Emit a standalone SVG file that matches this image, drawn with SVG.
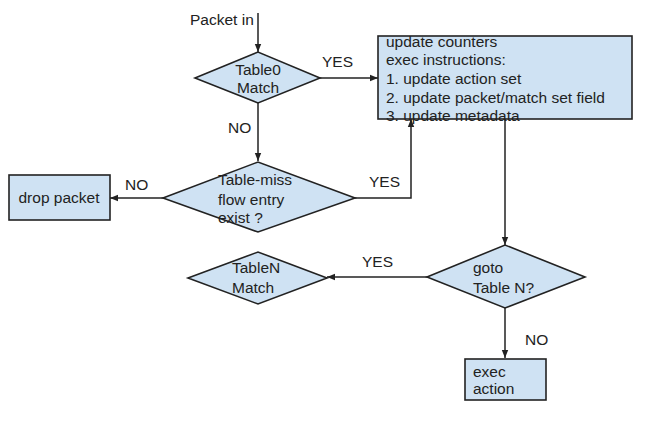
<svg xmlns="http://www.w3.org/2000/svg" width="646" height="424" viewBox="0 0 646 424">
<style>
.n{fill:#cfe2f3;stroke:#222;stroke-width:1.6}
.t{font-family:"Liberation Sans",Arial,sans-serif;font-size:15.5px;fill:#222}
.c{stroke:#222;stroke-width:1.5;fill:none}
</style>
<defs>
<marker id="ah" viewBox="0 0 10 10" refX="10" refY="5" markerWidth="8" markerHeight="8" markerUnits="userSpaceOnUse" orient="auto">
<path d="M0,1 L10,5 L0,9 z" fill="#222"/>
</marker>
</defs>
<rect width="646" height="424" fill="#fff"/>
<g id="connectors">
<path class="c" d="M258,13 V52" marker-end="url(#ah)"/>
<path class="c" d="M320,78 H378" marker-end="url(#ah)"/>
<path class="c" d="M258,103 V161" marker-end="url(#ah)"/>
<path class="c" d="M163,198 H110" marker-end="url(#ah)"/>
<path class="c" d="M355,198 H411 V119" marker-end="url(#ah)"/>
<path class="c" d="M505,119 V245" marker-end="url(#ah)"/>
<path class="c" d="M427,277 H327" marker-end="url(#ah)"/>
<path class="c" d="M505,308 V358" marker-end="url(#ah)"/>
<text class="t" x="322" y="67">YES</text>
<text class="t" x="228" y="133">NO</text>
<text class="t" x="125" y="190">NO</text>
<text class="t" x="369" y="187">YES</text>
<text class="t" x="362" y="267">YES</text>
<text class="t" x="525" y="345">NO</text>
</g>
<g id="packet-in"><text class="t" x="190" y="25">Packet in</text></g>
<g id="table0">
<polygon class="n" points="195,78 258,52 320,78 258,103"/>
<text class="t" x="258" y="75" text-anchor="middle">Table0</text>
<text class="t" x="258" y="93" text-anchor="middle">Match</text>
</g>
<g id="update">
<rect class="n" x="378" y="36" width="254" height="83"/>
<text class="t" x="386" y="47">update counters</text>
<text class="t" x="386" y="65">exec instructions:</text>
<text class="t" x="386" y="84">1. update action set</text>
<text class="t" x="386" y="103">2. update packet/match set field</text>
<text class="t" x="386" y="121">3. update metadata</text>
</g>
<g id="table-miss">
<polygon class="n" points="163,198 258,162 355,198 258,232"/>
<text class="t" x="218" y="185">Table-miss</text>
<text class="t" x="218" y="205">flow entry</text>
<text class="t" x="218" y="223">exist ?</text>
</g>
<g id="drop">
<rect class="n" x="9" y="175" width="101" height="45"/>
<text class="t" x="59" y="203" text-anchor="middle">drop packet</text>
</g>
<g id="goto">
<polygon class="n" points="427,277 505,245 585,277 505,308"/>
<text class="t" x="473" y="273">goto</text>
<text class="t" x="473" y="293">Table N?</text>
</g>
<g id="tableN">
<polygon class="n" points="188,278 258,252 327,278 258,304"/>
<text class="t" x="232" y="273">TableN</text>
<text class="t" x="232" y="293">Match</text>
</g>
<g id="exec">
<rect class="n" x="465" y="359" width="81" height="41"/>
<text class="t" x="473" y="377">exec</text>
<text class="t" x="473" y="394">action</text>
</g>
</svg>
